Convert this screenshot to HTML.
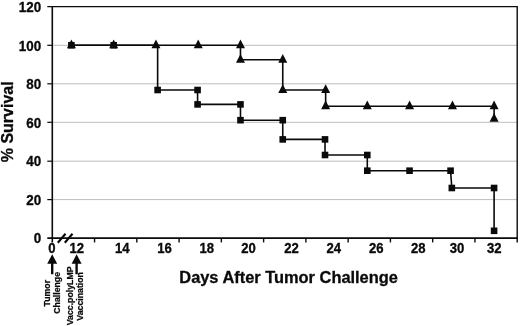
<!DOCTYPE html>
<html><head><meta charset="utf-8"><title>Survival chart</title>
<style>
html,body{margin:0;padding:0;background:#fff;}
body{width:520px;height:326px;overflow:hidden;}
svg{display:block;}
text{font-family:"Liberation Sans",Arial,sans-serif;font-weight:bold;fill:#0a0a0a;stroke:#0a0a0a;stroke-width:0.3px;}
.yl{font-size:13.4px;text-anchor:end;}
.xl{font-size:13.1px;text-anchor:middle;}
.t{font-size:16.4px;text-anchor:middle;}
.ty{font-size:16px;text-anchor:middle;}
.s{font-size:8.75px;text-anchor:middle;stroke:#0a0a0a;stroke-width:0.25px;}
</style></head><body>
<svg width="520" height="326" viewBox="0 0 520 326">
<rect width="520" height="326" fill="#fff"/>
<line x1="52.3" x2="517.2" y1="199.60" y2="199.60" stroke="#bdbdbd" stroke-width="1"/>
<line x1="52.3" x2="517.2" y1="161.20" y2="161.20" stroke="#bdbdbd" stroke-width="1"/>
<line x1="52.3" x2="517.2" y1="122.30" y2="122.30" stroke="#bdbdbd" stroke-width="1"/>
<line x1="52.3" x2="517.2" y1="83.80" y2="83.80" stroke="#bdbdbd" stroke-width="1"/>
<line x1="52.3" x2="517.2" y1="45.30" y2="45.30" stroke="#bdbdbd" stroke-width="1"/>
<path d="M47.3 6.6 H517.2 V238.1" fill="none" stroke="#0a0a0a" stroke-width="1.4"/>
<path d="M52.3 6.6 V242.6 M47.3 238.1 H517.8000000000001" fill="none" stroke="#0a0a0a" stroke-width="1.6"/>
<line x1="47.3" x2="52.3" y1="199.60" y2="199.60" stroke="#0a0a0a" stroke-width="1.2"/>
<line x1="47.3" x2="52.3" y1="161.20" y2="161.20" stroke="#0a0a0a" stroke-width="1.2"/>
<line x1="47.3" x2="52.3" y1="122.30" y2="122.30" stroke="#0a0a0a" stroke-width="1.2"/>
<line x1="47.3" x2="52.3" y1="83.80" y2="83.80" stroke="#0a0a0a" stroke-width="1.2"/>
<line x1="47.3" x2="52.3" y1="45.30" y2="45.30" stroke="#0a0a0a" stroke-width="1.2"/>
<line x1="94.56" x2="94.56" y1="238.1" y2="242.4" stroke="#0a0a0a" stroke-width="1.4"/>
<line x1="136.83" x2="136.83" y1="238.1" y2="242.4" stroke="#0a0a0a" stroke-width="1.4"/>
<line x1="179.09" x2="179.09" y1="238.1" y2="242.4" stroke="#0a0a0a" stroke-width="1.4"/>
<line x1="221.35" x2="221.35" y1="238.1" y2="242.4" stroke="#0a0a0a" stroke-width="1.4"/>
<line x1="263.62" x2="263.62" y1="238.1" y2="242.4" stroke="#0a0a0a" stroke-width="1.4"/>
<line x1="305.88" x2="305.88" y1="238.1" y2="242.4" stroke="#0a0a0a" stroke-width="1.4"/>
<line x1="348.15" x2="348.15" y1="238.1" y2="242.4" stroke="#0a0a0a" stroke-width="1.4"/>
<line x1="390.41" x2="390.41" y1="238.1" y2="242.4" stroke="#0a0a0a" stroke-width="1.4"/>
<line x1="432.67" x2="432.67" y1="238.1" y2="242.4" stroke="#0a0a0a" stroke-width="1.4"/>
<line x1="474.94" x2="474.94" y1="238.1" y2="242.4" stroke="#0a0a0a" stroke-width="1.4"/>
<line x1="517.20" x2="517.20" y1="238.1" y2="242.4" stroke="#0a0a0a" stroke-width="1.4"/>
<path d="M57.8 242.8 L65.5 233.8 M64.8 242.8 L72.5 233.8" stroke="#0a0a0a" stroke-width="2.1" fill="none"/>
<text class="yl" transform="translate(41.2 243.30) scale(1 1.11)">0</text>
<text class="yl" transform="translate(41.2 204.80) scale(1 1.11)">20</text>
<text class="yl" transform="translate(41.2 166.40) scale(1 1.11)">40</text>
<text class="yl" transform="translate(41.2 127.50) scale(1 1.11)">60</text>
<text class="yl" transform="translate(41.2 89.00) scale(1 1.11)">80</text>
<text class="yl" transform="translate(41.2 50.50) scale(1 1.11)">100</text>
<text class="yl" transform="translate(41.2 11.70) scale(1 1.11)">120</text>
<text class="xl" transform="translate(52 253) scale(1 1.14)">0</text>
<text class="xl" transform="translate(76.7 253) scale(1 1.14)">12</text>
<text class="xl" transform="translate(122.2 253) scale(1 1.14)">14</text>
<text class="xl" transform="translate(164.4 253) scale(1 1.14)">16</text>
<text class="xl" transform="translate(206.7 253) scale(1 1.14)">18</text>
<text class="xl" transform="translate(248.4 253) scale(1 1.14)">20</text>
<text class="xl" transform="translate(291.4 253) scale(1 1.14)">22</text>
<text class="xl" transform="translate(333.7 253) scale(1 1.14)">24</text>
<text class="xl" transform="translate(376.2 253) scale(1 1.14)">26</text>
<text class="xl" transform="translate(418.2 253) scale(1 1.14)">28</text>
<text class="xl" transform="translate(456.9 253) scale(1 1.14)">30</text>
<text class="xl" transform="translate(494.3 253) scale(1 1.14)">32</text>
<text class="t" x="288.6" y="283">Days After Tumor Challenge</text>
<text class="ty" transform="translate(12.8 121.8) rotate(-90)">% Survival</text>
<path d="M71.40 45.25 L113.67 45.25 L155.94 45.25 L198.21 45.25 L240.48 45.25 L240.48 59.80 L282.75 59.80 L282.75 90.00 L325.65 90.00 L325.65 106.20 L367.29 106.20 L409.56 106.20 L452.46 106.20 L494.10 106.20 L494.10 118.70" fill="none" stroke="#0a0a0a" stroke-width="1.6"/>
<path d="M71.40 45.25 L113.67 45.25 L157.63 45.25 L157.63 90.00 L197.58 90.00 L197.58 104.40 L240.48 104.40 L240.48 120.20 L282.75 120.20 L282.75 139.40 L325.02 139.40 L325.02 155.00 L367.29 155.00 L367.29 170.70 L409.56 170.70 L450.56 170.70 L451.83 188.00 L494.10 188.00 L494.10 230.80" fill="none" stroke="#0a0a0a" stroke-width="1.6"/>
<rect x="68.10" y="41.95" width="6.6" height="6.6" fill="#0a0a0a"/>
<rect x="110.37" y="41.95" width="6.6" height="6.6" fill="#0a0a0a"/>
<rect x="154.33" y="86.70" width="6.6" height="6.6" fill="#0a0a0a"/>
<rect x="194.28" y="86.70" width="6.6" height="6.6" fill="#0a0a0a"/>
<rect x="194.28" y="101.10" width="6.6" height="6.6" fill="#0a0a0a"/>
<rect x="237.18" y="101.10" width="6.6" height="6.6" fill="#0a0a0a"/>
<rect x="237.18" y="116.90" width="6.6" height="6.6" fill="#0a0a0a"/>
<rect x="279.45" y="116.90" width="6.6" height="6.6" fill="#0a0a0a"/>
<rect x="279.45" y="136.10" width="6.6" height="6.6" fill="#0a0a0a"/>
<rect x="321.72" y="136.10" width="6.6" height="6.6" fill="#0a0a0a"/>
<rect x="321.72" y="151.70" width="6.6" height="6.6" fill="#0a0a0a"/>
<rect x="363.99" y="151.70" width="6.6" height="6.6" fill="#0a0a0a"/>
<rect x="363.99" y="167.40" width="6.6" height="6.6" fill="#0a0a0a"/>
<rect x="406.26" y="167.40" width="6.6" height="6.6" fill="#0a0a0a"/>
<rect x="447.26" y="167.40" width="6.6" height="6.6" fill="#0a0a0a"/>
<rect x="448.53" y="184.70" width="6.6" height="6.6" fill="#0a0a0a"/>
<rect x="490.80" y="184.70" width="6.6" height="6.6" fill="#0a0a0a"/>
<rect x="490.80" y="227.50" width="6.6" height="6.6" fill="#0a0a0a"/>
<path d="M71.40 39.55 L75.90 48.25 H66.90 Z" fill="#0a0a0a"/>
<path d="M113.67 39.55 L118.17 48.25 H109.17 Z" fill="#0a0a0a"/>
<path d="M155.94 39.55 L160.44 48.25 H151.44 Z" fill="#0a0a0a"/>
<path d="M198.21 39.55 L202.71 48.25 H193.71 Z" fill="#0a0a0a"/>
<path d="M240.48 39.55 L244.98 48.25 H235.98 Z" fill="#0a0a0a"/>
<path d="M240.48 54.10 L244.98 62.80 H235.98 Z" fill="#0a0a0a"/>
<path d="M282.75 54.10 L287.25 62.80 H278.25 Z" fill="#0a0a0a"/>
<path d="M282.75 84.30 L287.25 93.00 H278.25 Z" fill="#0a0a0a"/>
<path d="M325.65 84.30 L330.15 93.00 H321.15 Z" fill="#0a0a0a"/>
<path d="M325.65 100.50 L330.15 109.20 H321.15 Z" fill="#0a0a0a"/>
<path d="M367.29 100.50 L371.79 109.20 H362.79 Z" fill="#0a0a0a"/>
<path d="M409.56 100.50 L414.06 109.20 H405.06 Z" fill="#0a0a0a"/>
<path d="M452.46 100.50 L456.96 109.20 H447.96 Z" fill="#0a0a0a"/>
<path d="M494.10 100.50 L498.60 109.20 H489.60 Z" fill="#0a0a0a"/>
<path d="M494.10 113.00 L498.60 121.70 H489.60 Z" fill="#0a0a0a"/>
<path d="M52.2 254.2 L57.2 263.8 H53.400000000000006 V274.2 H51.0 V263.8 H47.2 Z" fill="#0a0a0a"/>
<path d="M76.6 254.2 L81.6 263.8 H77.8 V274.2 H75.39999999999999 V263.8 H71.6 Z" fill="#0a0a0a"/>
<text class="s" transform="translate(50.2 293.2) rotate(-90)">Tumor</text>
<text class="s" transform="translate(59.9 292.85) rotate(-90)">Challenge</text>
<text class="s" transform="translate(73.1 295.9) rotate(-90)">Vacc.polyLMP</text>
<text class="s" transform="translate(82.6 296.35) rotate(-90)">Vaccination</text>
</svg></body></html>
